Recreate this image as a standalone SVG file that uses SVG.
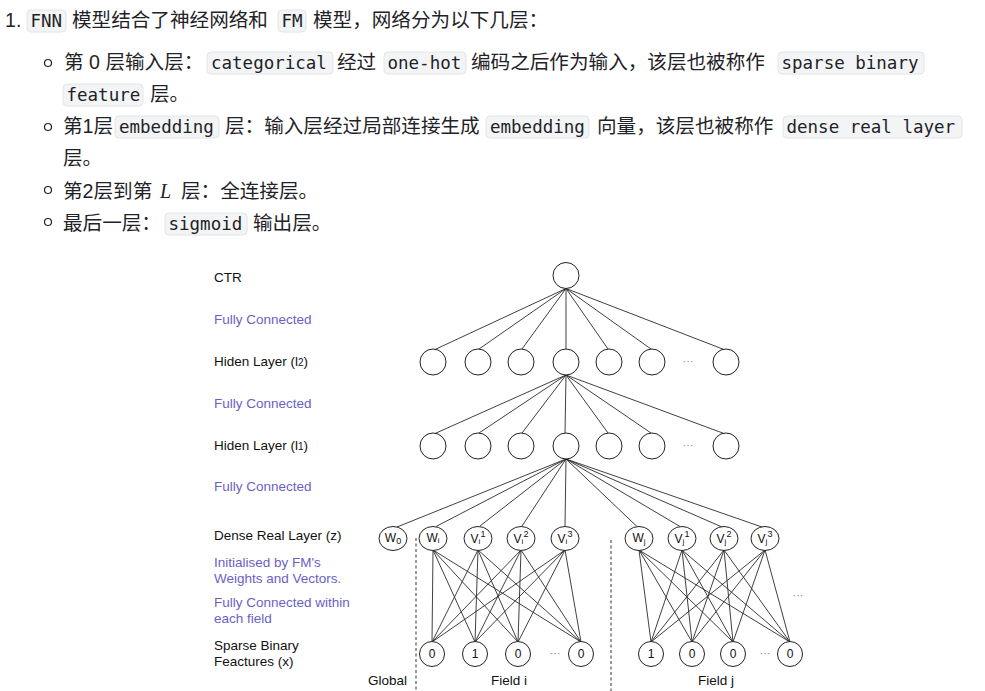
<svg xmlns="http://www.w3.org/2000/svg" width="985" height="691" viewBox="0 0 985 691">
<style>
.t{font-family:"Liberation Sans","Noto Sans CJK SC",sans-serif;font-size:19.6px;fill:#1f2328}
.c{font-family:"DejaVu Sans Mono","Liberation Mono",monospace;font-size:17.5px;fill:#1f2328}
.cb{fill:#f3f4f5;stroke:#e2e4e7;stroke-width:1}
.b{fill:none;stroke:#1f2328;stroke-width:1.2}
.lbl{font-family:"Liberation Sans",Arial,sans-serif;font-size:13.5px;fill:#111}
.pl{font-family:"Liberation Sans",Arial,sans-serif;font-size:13.5px;fill:#6b5fc7}
.n{fill:#fff;stroke:#222;stroke-width:1}
.nt{font-family:"Liberation Sans",Arial,sans-serif;font-size:12px;fill:#111;text-anchor:middle}
.e{stroke:#2a2a2a;stroke-width:0.9;fill:none}
.d{stroke:#333;stroke-width:1;stroke-dasharray:3 2.5;fill:none}
.dots{font-family:"Liberation Sans",Arial,sans-serif;font-size:11px;fill:#888;text-anchor:middle}
</style>
<rect width="985" height="691" fill="#fff"/>

<g id="text-list">
  <text class="t" x="5" y="27">1.</text>
  <rect class="cb" x="27" y="10" width="39" height="22" rx="4"/>
  <text class="c" x="30.5" y="27">FNN</text>
  <text class="t" x="72" y="27">模型结合了神经网络和</text>
  <rect class="cb" x="278" y="10" width="28" height="22" rx="4"/>
  <text class="c" x="281.5" y="27">FM</text>
  <text class="t" x="313" y="27">模型，网络分为以下几层：</text>

  <circle class="b" cx="48" cy="63" r="3.5"/>
  <text class="t" x="64" y="69">第 0 层输入层：</text>
  <rect class="cb" x="207" y="52" width="126" height="22" rx="4"/>
  <text class="c" x="211" y="69">categorical</text>
  <text class="t" x="337" y="69">经过</text>
  <rect class="cb" x="384" y="52" width="82" height="22" rx="4"/>
  <text class="c" x="387.5" y="69">one-hot</text>
  <text class="t" x="471" y="69">编码之后作为输入，该层也被称作</text>
  <rect class="cb" x="778" y="52" width="146" height="22" rx="4"/>
  <text class="c" x="781.5" y="69">sparse binary</text>
  <rect class="cb" x="63" y="84" width="80" height="22" rx="4"/>
  <text class="c" x="66.5" y="101">feature</text>
  <text class="t" x="150" y="101">层。</text>

  <circle class="b" cx="48" cy="127" r="3.5"/>
  <text class="t" x="63" y="133">第1层</text>
  <rect class="cb" x="115" y="116" width="104" height="22" rx="4"/>
  <text class="c" x="119" y="133">embedding</text>
  <text class="t" x="225" y="133">层：输入层经过局部连接生成</text>
  <rect class="cb" x="486" y="116" width="103" height="22" rx="4"/>
  <text class="c" x="490" y="133">embedding</text>
  <text class="t" x="597" y="133">向量，该层也被称作</text>
  <rect class="cb" x="783" y="116" width="179" height="22" rx="4"/>
  <text class="c" x="786.5" y="133">dense real layer</text>
  <text class="t" x="63" y="165">层。</text>

  <circle class="b" cx="48" cy="190" r="3.5"/>
  <text class="t" x="63" y="198">第2层到第</text>
  <text x="160" y="198" font-family="'Liberation Serif',serif" font-style="italic" font-size="20" fill="#1f2328">L</text>
  <text class="t" x="181" y="198">层：全连接层。</text>

  <circle class="b" cx="48" cy="222" r="3.5"/>
  <text class="t" x="63" y="230">最后一层：</text>
  <rect class="cb" x="165" y="213" width="82" height="22" rx="4"/>
  <text class="c" x="168.5" y="230">sigmoid</text>
  <text class="t" x="253" y="230">输出层。</text>
</g>

<g id="labels">
  <text class="lbl" x="214" y="282">CTR</text>
  <text class="pl" x="214" y="324">Fully Connected</text>
  <text class="lbl" x="214" y="366">Hiden Layer (l<tspan font-size="10">2</tspan>)</text>
  <text class="pl" x="214" y="408">Fully Connected</text>
  <text class="lbl" x="214" y="450">Hiden Layer (l<tspan font-size="10">1</tspan>)</text>
  <text class="pl" x="214" y="491">Fully Connected</text>
  <text class="lbl" x="214" y="540">Dense Real Layer (z)</text>
  <text class="pl" x="214" y="567">Initialised by FM's</text>
  <text class="pl" x="214" y="583">Weights and Vectors.</text>
  <text class="pl" x="214" y="607">Fully Connected within</text>
  <text class="pl" x="214" y="623">each field</text>
  <text class="lbl" x="214" y="650">Sparse Binary</text>
  <text class="lbl" x="214" y="666">Feactures (x)</text>
  <text class="lbl" x="368" y="685">Global</text>
  <text class="lbl" x="509" y="685" text-anchor="middle">Field i</text>
  <text class="lbl" x="716" y="685" text-anchor="middle">Field j</text>
</g>

<g id="connectors">
  <line class="d" x1="416" y1="538" x2="416" y2="691"/>
  <line class="d" x1="611" y1="540" x2="611" y2="691"/>
  <line class="e" x1="566" y1="288.5" x2="435" y2="349.5"/>
  <line class="e" x1="566" y1="288.5" x2="479" y2="349"/>
  <line class="e" x1="566" y1="288.5" x2="522" y2="349"/>
  <line class="e" x1="566" y1="288.5" x2="566" y2="349"/>
  <line class="e" x1="566" y1="288.5" x2="608" y2="349"/>
  <line class="e" x1="566" y1="288.5" x2="651" y2="349"/>
  <line class="e" x1="566" y1="288.5" x2="724" y2="349.5"/>
  <line class="e" x1="566" y1="375" x2="435" y2="433.5"/>
  <line class="e" x1="566" y1="375" x2="479" y2="433"/>
  <line class="e" x1="566" y1="375" x2="522" y2="433"/>
  <line class="e" x1="566" y1="375" x2="565" y2="433"/>
  <line class="e" x1="566" y1="375" x2="608" y2="433"/>
  <line class="e" x1="566" y1="375" x2="651" y2="433"/>
  <line class="e" x1="566" y1="375" x2="724" y2="433.5"/>
  <line class="e" x1="566" y1="459" x2="397" y2="527"/>
  <line class="e" x1="566" y1="459" x2="436" y2="526.5"/>
  <line class="e" x1="566" y1="459" x2="480" y2="526"/>
  <line class="e" x1="566" y1="459" x2="522" y2="526"/>
  <line class="e" x1="566" y1="459" x2="565" y2="526"/>
  <line class="e" x1="566" y1="459" x2="637" y2="526.5"/>
  <line class="e" x1="566" y1="459" x2="680" y2="526.5"/>
  <line class="e" x1="566" y1="459" x2="722" y2="527"/>
  <line class="e" x1="566" y1="459" x2="762" y2="527"/>
  <path class="e" d="M433 550L432 642M433 550L475 642M433 550L518 642M433 550L581 642
    M478 550L432 642M478 550L475 642M478 550L518 642M478 550L581 642
    M521 550L432 642M521 550L475 642M521 550L518 642M521 550L581 642
    M565 550L432 642M565 550L475 642M565 550L518 642M565 550L581 642"/>
  <path class="e" d="M639 550L651 642M639 550L692 642M639 550L733 642M639 550L790 642
    M682 550L651 642M682 550L692 642M682 550L733 642M682 550L790 642
    M724 550L651 642M724 550L692 642M724 550L733 642M724 550L790 642
    M765 550L651 642M765 550L692 642M765 550L733 642M765 550L790 642"/>
</g>

<g id="ctr"><circle class="n" cx="566" cy="275.5" r="13"/></g>

<g id="hidden-l2">
  <circle class="n" cx="433" cy="362" r="13"/>
  <circle class="n" cx="478" cy="362" r="13"/>
  <circle class="n" cx="521" cy="362" r="13"/>
  <circle class="n" cx="566" cy="362" r="13"/>
  <circle class="n" cx="609" cy="362" r="13"/>
  <circle class="n" cx="652" cy="362" r="13"/>
  <text class="dots" x="688" y="365">···</text>
  <circle class="n" cx="726" cy="362" r="13"/>
</g>

<g id="hidden-l1">
  <circle class="n" cx="433" cy="446" r="13"/>
  <circle class="n" cx="478" cy="446" r="13"/>
  <circle class="n" cx="521" cy="446" r="13"/>
  <circle class="n" cx="566" cy="446" r="13"/>
  <circle class="n" cx="609" cy="446" r="13"/>
  <circle class="n" cx="652" cy="446" r="13"/>
  <text class="dots" x="688" y="449">···</text>
  <circle class="n" cx="726" cy="446" r="13"/>
</g>

<g id="dense">
  <g id="w0"><ellipse class="n" cx="393" cy="538.5" rx="14" ry="12"/><text class="nt" x="393" y="542">W<tspan font-size="9" dy="2">0</tspan></text></g>
  <g id="wi"><ellipse class="n" cx="433" cy="538.5" rx="14" ry="12"/><text class="nt" x="433" y="542">W<tspan font-size="8" dy="1">i</tspan></text></g>
  <g id="vi1"><ellipse class="n" cx="478" cy="538.5" rx="14" ry="12"/><text class="nt" x="478" y="543">V<tspan font-size="8" dy="1">i</tspan><tspan font-size="9" dy="-7">1</tspan></text></g>
  <g id="vi2"><ellipse class="n" cx="521" cy="538.5" rx="14" ry="12"/><text class="nt" x="521" y="543">V<tspan font-size="8" dy="1">i</tspan><tspan font-size="9" dy="-7">2</tspan></text></g>
  <g id="vi3"><ellipse class="n" cx="565" cy="538.5" rx="14" ry="12"/><text class="nt" x="565" y="543">V<tspan font-size="8" dy="1">i</tspan><tspan font-size="9" dy="-7">3</tspan></text></g>
  <g id="wj"><ellipse class="n" cx="639" cy="538.5" rx="14" ry="12"/><text class="nt" x="639" y="542">W<tspan font-size="8" dy="2">j</tspan></text></g>
  <g id="vj1"><ellipse class="n" cx="682" cy="538.5" rx="14" ry="12"/><text class="nt" x="682" y="543">V<tspan font-size="8" dy="1">j</tspan><tspan font-size="9" dy="-7">1</tspan></text></g>
  <g id="vj2"><ellipse class="n" cx="724" cy="538.5" rx="14" ry="12"/><text class="nt" x="724" y="543">V<tspan font-size="8" dy="1">j</tspan><tspan font-size="9" dy="-7">2</tspan></text></g>
  <g id="vj3"><ellipse class="n" cx="765" cy="538.5" rx="14" ry="12"/><text class="nt" x="765" y="543">V<tspan font-size="8" dy="1">j</tspan><tspan font-size="9" dy="-7">3</tspan></text></g>
  <text class="dots" x="798" y="599">···</text>
</g>

<g id="sparse-i">
  <circle class="n" cx="432" cy="654" r="12.5"/><text class="nt" x="432" y="658" font-size="11">0</text>
  <circle class="n" cx="475" cy="654" r="12.5"/><text class="nt" x="475" y="658" font-size="11">1</text>
  <circle class="n" cx="518" cy="654" r="12.5"/><text class="nt" x="518" y="658" font-size="11">0</text>
  <text class="dots" x="555" y="657">···</text>
  <circle class="n" cx="581" cy="654" r="12.5"/><text class="nt" x="581" y="658" font-size="11">0</text>
</g>

<g id="sparse-j">
  <circle class="n" cx="651" cy="654" r="12.5"/><text class="nt" x="651" y="658" font-size="11">1</text>
  <circle class="n" cx="692" cy="654" r="12.5"/><text class="nt" x="692" y="658" font-size="11">0</text>
  <circle class="n" cx="733" cy="654" r="12.5"/><text class="nt" x="733" y="658" font-size="11">0</text>
  <text class="dots" x="765" y="657">···</text>
  <circle class="n" cx="790" cy="654" r="12.5"/><text class="nt" x="790" y="658" font-size="11">0</text>
</g>
</svg>
